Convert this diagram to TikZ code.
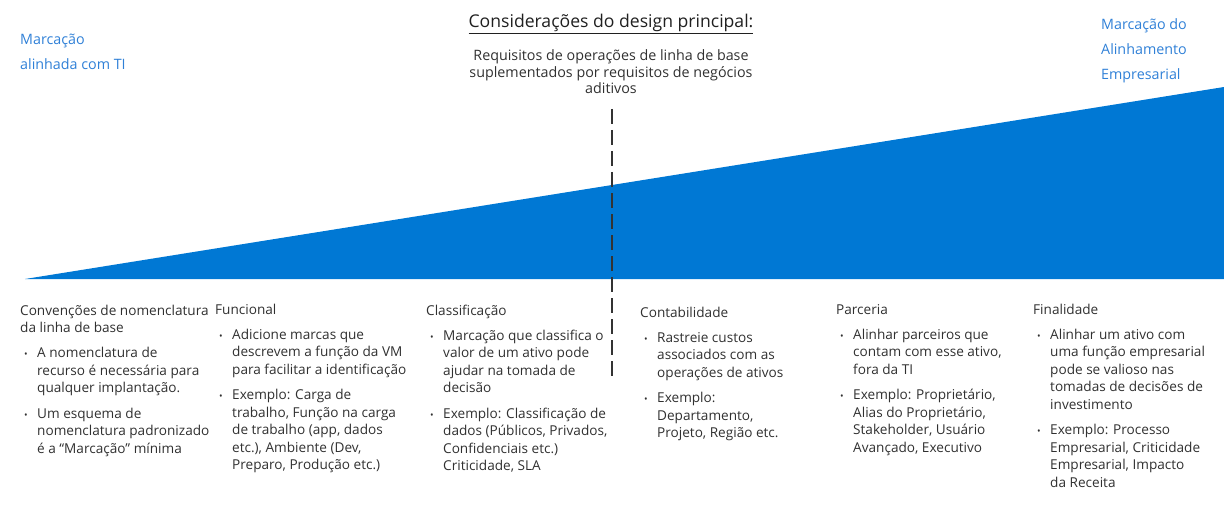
\documentclass[tikz,border=0pt]{standalone}
\usepackage{fontspec}
\setmainfont{Open Sans}
\usetikzlibrary{positioning}
\definecolor{azure}{HTML}{0078D4}
\definecolor{tagblue}{HTML}{2F80D7}
\definecolor{bodygray}{HTML}{303030}
\definecolor{titlegray}{HTML}{202020}
\definecolor{dashgray}{HTML}{333333}
\newcommand{\txtlines}[1]{\begin{tabular}[t]{@{}l@{}}#1\end{tabular}}
\newcommand{\tagitem}[1]{\makebox[17pt][l]{\hspace{4pt}{\fontsize{9.5}{9.5}\selectfont\textbullet}}\txtlines{#1}}

\begin{document}
\begin{tikzpicture}[x=1pt, y=-1pt,
    body/.style={anchor=north west, inner sep=0pt, text=bodygray, font=\fontsize{13.6}{17.5}\selectfont},
    head/.style={body, anchor=base west},
    tag/.style={anchor=base west, inner sep=0pt, text=tagblue, font=\fontsize{14.3}{25}\selectfont},
    cut/.style={dashgray, line width=2pt, dash pattern=on 15pt off 6pt}]
  \useasboundingbox (0,0) rectangle (1224,508);
  % wedge - tagging grows from IT to business
  \fill[azure] (25,279) -- (1224,279) -- (1224,87) -- cycle;
  % end labels
  \node[tag] (tagit) at (20,45) {\txtlines{Marcação\\alinhada com TI}};
  \node[tag] (tagbiz) at (1101,30) {\txtlines{Marcação do\\Alinhamento\\Empresarial}};
  % design consideration
  \node[anchor=base, inner sep=0pt, text=titlegray, font=\fontsize{17.6}{20}\selectfont] (title) at (611,28)
    {\underline{Considerações do design principal:}};
  \node[anchor=base, inner sep=0pt, text=bodygray, font=\fontsize{14.3}{16.5}\selectfont] (subtitle) at (611,61)
    {\begin{tabular}[t]{@{}c@{}}Requisitos de operações de linha de base\\suplementados por requisitos de negócios\\aditivos\end{tabular}};
  \coordinate (cuttop) at (612,109);
  \coordinate (cutend) at (612,380);
  \draw[cut] (cuttop) -- (cutend);
  % baseline naming
  \node[head] (h1) at (20,315) {\txtlines{Convenções de nomenclatura\\da linha de base}};
  \node[body, below=7.5pt of h1.south west, anchor=north west] (b1a) {\tagitem{A nomenclatura de\\recurso é necessária para\\qualquer implantação.}};
  \node[body, below=7.5pt of b1a.south west, anchor=north west] (b1b) {\tagitem{Um esquema de\\nomenclatura padronizado\\é a “Marcação” mínima}};
  % functional
  \node[head] (h2) at (215,314) {\txtlines{Funcional}};
  \node[body, below=7.5pt of h2.south west, anchor=north west] (b2a) {\tagitem{Adicione marcas que\\descrevem a função da VM\\para facilitar a identificação}};
  \node[body, below=7.5pt of b2a.south west, anchor=north west] (b2b) {\tagitem{Exemplo: Carga de\\trabalho, Função na carga\\de trabalho (app, dados\\etc.), Ambiente (Dev,\\Preparo, Produção etc.)}};
  % classification
  \node[head] (h3) at (426,315) {\txtlines{Classificação}};
  \node[body, below=7.5pt of h3.south west, anchor=north west] (b3a) {\tagitem{Marcação que classifica o\\valor de um ativo pode\\ajudar na tomada de\\decisão}};
  \node[body, below=7.5pt of b3a.south west, anchor=north west] (b3b) {\tagitem{Exemplo: Classificação de\\dados (Públicos, Privados,\\Confidenciais etc.)\\Criticidade, SLA}};
  % accounting
  \node[head] (h4) at (640,317) {\txtlines{Contabilidade}};
  \node[body, below=7.5pt of h4.south west, anchor=north west] (b4a) {\tagitem{Rastreie custos\\associados com as\\operações de ativos}};
  \node[body, below=7.5pt of b4a.south west, anchor=north west] (b4b) {\tagitem{Exemplo:\\Departamento,\\Projeto, Região etc.}};
  % partnership
  \node[head] (h5) at (836,314) {\txtlines{Parceria}};
  \node[body, below=7.5pt of h5.south west, anchor=north west] (b5a) {\tagitem{Alinhar parceiros que\\contam com esse ativo,\\fora da TI}};
  \node[body, below=7.5pt of b5a.south west, anchor=north west] (b5b) {\tagitem{Exemplo: Proprietário,\\Alias do Proprietário,\\Stakeholder, Usuário\\Avançado, Executivo}};
  % purpose
  \node[head] (h6) at (1033,314) {\txtlines{Finalidade}};
  \node[body, below=7.5pt of h6.south west, anchor=north west] (b6a) {\tagitem{Alinhar um ativo com\\uma função empresarial\\pode se valioso nas\\tomadas de decisões de\\investimento}};
  \node[body, below=7.5pt of b6a.south west, anchor=north west] (b6b) {\tagitem{Exemplo: Processo\\Empresarial, Criticidade\\Empresarial, Impacto\\da Receita}};
\end{tikzpicture}
\end{document}
